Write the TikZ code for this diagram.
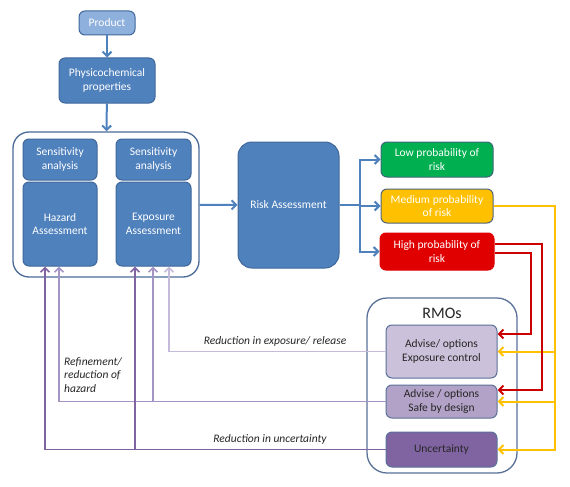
\documentclass[tikz,border=0pt]{standalone}
\usepackage{fontspec}
\setmainfont{Carlito}
\usepackage{tikz}
\usetikzlibrary{positioning,arrows.meta}

\definecolor{boxblue}{HTML}{4F81BD}
\definecolor{boxedge}{HTML}{3F679A}
\definecolor{paleblue}{HTML}{8EB0DC}
\definecolor{groupedge}{HTML}{4A6A98}
\definecolor{lowgreen}{HTML}{00B050}
\definecolor{lowedge}{HTML}{3A6878}
\definecolor{medyellow}{HTML}{FFC000}
\definecolor{medyedge}{HTML}{50657A}
\definecolor{highred}{HTML}{E00000}
\definecolor{linered}{HTML}{CC0000}
\definecolor{rmoedge}{HTML}{5A7199}
\definecolor{lilac}{HTML}{CCC1DA}
\definecolor{lavender}{HTML}{B3A2C7}
\definecolor{violet}{HTML}{8064A2}
\definecolor{lilacline}{HTML}{C6BADB}
\definecolor{lavline}{HTML}{A594C6}
\definecolor{textdark}{HTML}{262626}

\tikzset{
  box/.style={draw=boxedge, fill=boxblue, text=white, rounded corners=6pt,
    line width=1pt, align=center, inner sep=2pt,
    font=\fontsize{11.5}{13.5}\selectfont},
  group/.style={draw=groupedge, fill=white, rounded corners=16pt, line width=1.3pt},
  riskbox/.style={box, minimum width=112pt, minimum height=35pt},
  rmobox/.style={box, draw=rmoedge, text=textdark, minimum width=111pt},
  blueline/.style={draw=boxblue, line width=2pt},
  yline/.style={draw=medyellow, line width=2pt},
  rline/.style={draw=linered, line width=2pt},
  note/.style={text=textdark, font=\fontsize{11.5}{13.5}\selectfont\itshape}
}

\begin{document}
\begin{tikzpicture}[x=1pt,y=-1pt,>={Straight Barb[length=4.5pt,width=9pt]}]
\useasboundingbox (0,0) rectangle (570,487);

% product and properties
\node[box, fill=paleblue, minimum width=56pt, minimum height=24pt] (product) at (107,23) {Product};
\node[box, minimum width=96pt, minimum height=45pt, below=22pt of product] (phys) {Physicochemical\\properties};

% hazard / exposure block
\node[group, minimum width=186pt, minimum height=145pt] (assess) at (106,204.5) {};
\node[box, minimum width=74pt, minimum height=41pt] (sens1) at (60,159.5) {Sensitivity\\analysis};
\node[box, minimum width=74pt, minimum height=84pt, below=1pt of sens1] (haz) {Hazard\\Assessment};
\node[box, minimum width=75pt, minimum height=41pt] (sens2) at (153.5,159.5) {Sensitivity\\analysis};
\node[box, minimum width=75pt, minimum height=84pt, below=1pt of sens2] (exp) {Exposure\\Assessment};

\node[box, rounded corners=14pt, minimum width=101pt, minimum height=126pt] (risk) at (288.5,205) {Risk Assessment};

% outcomes
\node[riskbox, fill=lowgreen, draw=lowedge] (low) at (437,159.5) {Low probability of\\risk};
\node[riskbox, fill=medyellow, draw=medyedge, minimum height=34pt] (med) at (437,206) {Medium probability\\of risk};
\node[riskbox, fill=highred, draw=highred, minimum width=114pt, minimum height=37pt] (high) at (437,251.5) {High probability of\\risk};

% RMOs
\node[group, draw=rmoedge, rounded corners=20pt, minimum width=150pt, minimum height=175pt] (rmos) at (442,385.5) {};
\node[text=textdark, font=\fontsize{16}{18}\selectfont] (rmotitle) at (442,313) {RMOs};
\node[rmobox, fill=lilac, minimum height=53pt] (expctl) at (441.5,351.5) {Advise/ options\\Exposure control};
\node[rmobox, fill=lavender, minimum height=33pt] (safe) at (441.5,401.5) {Advise / options\\Safe by design};
\node[rmobox, fill=violet, minimum height=35pt] (unc) at (441.5,449.5) {Uncertainty};

% main flow
\draw[->,blueline] (product) -- (phys);
\draw[->,blueline] (phys) -- (assess);
\draw[->,blueline] (assess) -- (risk);
\coordinate (fork) at (360,205);
\draw[blueline] (risk.east |- fork) -- (fork);
\draw[->,blueline] (fork) |- (low);
\draw[->,blueline] (fork) |- (med);
\draw[->,blueline] (fork) |- (high);

% medium risk to all options
\coordinate (ybus) at (555,0);
\draw[->,yline] (med.east) -| (ybus |- unc.east) -- (unc.east);
\draw[->,yline] (ybus |- expctl.east) -- (expctl.east);
\draw[->,yline] (ybus |- safe.east) -- (safe.east);

% high risk to advise boxes
\coordinate (rout) at (542,0);
\coordinate (rin) at (531,0);
\coordinate (safein) at ([yshift=11.5pt]safe.east);
\coordinate (ctlin) at ([yshift=17.5pt]expctl.east);
\draw[->,rline] ([yshift=7.5pt]high.east) -| (rout |- safein) -- (safein);
\draw[->,rline] ([yshift=-1.5pt]high.east) -| (rin |- ctlin) -- (ctlin);

% feedback to the assessments
\coordinate (l1) at (169,0);
\coordinate (m1) at (59,0);
\coordinate (m2) at (153,0);
\coordinate (d1) at (45,0);
\coordinate (d2) at (135,0);
\draw[->,draw=lilacline,line width=1.6pt] (expctl.west) -| (exp.south -| l1);
\draw[->,draw=lavline,line width=1.6pt] (safe.west) -| (haz.south -| m1);
\draw[->,draw=lavline,line width=1.6pt] (m2 |- safe.west) -- (exp.south -| m2);
\draw[->,draw=violet,line width=1.6pt] (unc.west) -| (haz.south -| d1);
\draw[->,draw=violet,line width=1.6pt] (d2 |- unc.west) -- (exp.south -| d2);

\node[note] (lblexp) at (275,341) {Reduction in exposure/ release};
\node[note, align=left, anchor=north west, inner sep=0pt] (lblhaz) at (64,357) {Refinement/\\reduction of\\hazard};
\node[note] (lblunc) at (270,439) {Reduction in uncertainty};
\end{tikzpicture}
\end{document}
